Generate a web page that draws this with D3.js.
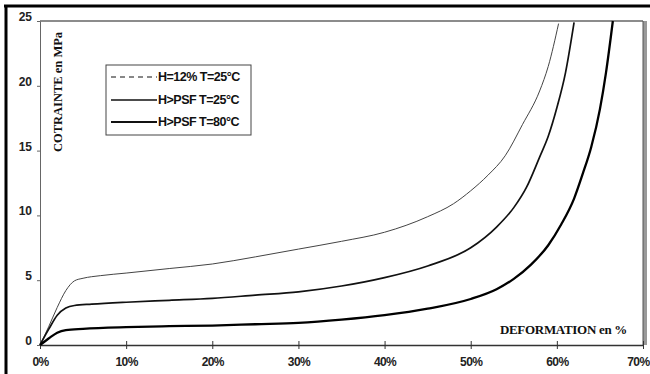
<!DOCTYPE html>
<html><head><meta charset="utf-8">
<script src="https://cdn.jsdelivr.net/npm/d3@7"></script>
<style>html,body{margin:0;padding:0;background:#fff;overflow:hidden}</style>
</head><body>
<svg id="c" width="650" height="374"></svg>
<script>
const xTicks = [0,10,20,30,40,50,60,70];
const yTicks = [0,5,10,15,20,25];
const seriesNames = ["H=12% T=25°C","H>PSF T=25°C","H>PSF T=80°C"];
const strain1 = [0,1,2,3,4,5,7,10,15,20,25,30,35,40,45,48,50,52,54,56,58,59,60.2];
const stress1 = [0,1.4,2.9,4.2,4.95,5.15,5.35,5.55,5.9,6.25,6.8,7.4,8.0,8.7,9.9,10.9,11.9,13.1,14.6,17.0,19.6,21.5,24.8];
const strain2 = [0,1,2,3,4,6,10,15,20,25,30,35,40,45,50,53,55,56.5,58,59,60,61,62];
const stress2 = [0,1.2,2.3,2.85,3.05,3.15,3.3,3.45,3.6,3.85,4.1,4.55,5.2,6.1,7.5,9.1,10.6,12.2,14.5,16.1,18.3,21.0,24.9];
const strain3 = [0,1,2,3,5,10,15,20,25,30,35,40,45,50,53,55,57,59,60.5,62,63,64,65,65.7,66.5];
const stress3 = [0,0.5,0.95,1.15,1.25,1.38,1.45,1.5,1.6,1.7,1.95,2.3,2.8,3.55,4.3,5.1,6.2,7.7,9.3,11.3,13.2,15.3,18.2,21.0,25.0];

const svg = d3.select("#c");
const x = d3.scaleLinear().domain([0,70]).range([40,643]);
const y = d3.scaleLinear().domain([0,25]).range([345,21]);

// outer frame
svg.append("line").attr("x1",4).attr("x2",650).attr("y1",6).attr("y2",6).attr("stroke","#000").attr("stroke-width",3);
svg.append("line").attr("x1",6).attr("x2",6).attr("y1",5).attr("y2",374).attr("stroke","#000").attr("stroke-width",3);

// plot frame
svg.append("line").attr("x1",x(0)).attr("x2",x(70)).attr("y1",y(25)).attr("y2",y(25)).attr("stroke","#666").attr("stroke-width",1.5);
svg.append("line").attr("x1",x(70)+2).attr("x2",x(70)+2).attr("y1",y(25)).attr("y2",y(0)).attr("stroke","#999").attr("stroke-width",4);
svg.append("line").attr("x1",x(70)).attr("x2",x(70)).attr("y1",y(25)).attr("y2",y(0)).attr("stroke","#555").attr("stroke-width",1);

const fontTick = "Arial, 'Liberation Sans', sans-serif";
const xAxis = svg.append("g").attr("transform",`translate(0,${y(0)})`)
  .call(d3.axisBottom(x).tickValues(xTicks).tickSizeInner(4).tickSizeOuter(0).tickPadding(8).tickFormat(d=>d+"%"));
xAxis.select(".domain").attr("stroke","#333").attr("stroke-width",1.5);
xAxis.selectAll(".tick line").attr("stroke","#333").attr("y1",-4).attr("y2",4);
xAxis.selectAll("text").attr("font-family",fontTick).attr("font-size",12).attr("font-weight","bold").attr("fill","#222").attr("letter-spacing","-0.6");
xAxis.selectAll(".tick").filter(d=>d===70).select("text").attr("text-anchor","end").attr("x",6);

const yAxis = svg.append("g").attr("transform",`translate(${x(0)},0)`)
  .call(d3.axisLeft(y).tickValues(yTicks).tickSizeInner(3).tickSizeOuter(0).tickPadding(5));
yAxis.select(".domain").attr("stroke","#666").attr("stroke-width",1);
yAxis.selectAll(".tick line").attr("stroke","#666");
yAxis.selectAll("text").attr("font-family",fontTick).attr("font-size",12).attr("font-weight","bold").attr("fill","#222").attr("dy","-0.05em");

// curves
const series = [
  {xs:strain1, ys:stress1, w:1, c:"#444"},
  {xs:strain2, ys:stress2, w:1.7, c:"#111"},
  {xs:strain3, ys:stress3, w:2.3, c:"#000"}
];
const line = d3.line().x(d=>x(d[0])).y(d=>y(d[1])).curve(d3.curveMonotoneX);
series.forEach(s=>{
  const pts = s.xs.map((v,i)=>[v,s.ys[i]]);
  svg.append("path").attr("d",line(pts)).attr("fill","none").attr("stroke",s.c).attr("stroke-width",s.w);
});

// axis titles
svg.append("text").attr("transform",`translate(62,92) rotate(-90)`).attr("text-anchor","middle")
  .attr("font-family","'Liberation Serif','Times New Roman',serif").attr("font-weight","bold").attr("font-size",12.5)
  .attr("fill","#111").text("COTRAINTE en MPa");
svg.append("text").attr("x",627).attr("y",334).attr("text-anchor","end")
  .attr("font-family","'Liberation Serif','Times New Roman',serif").attr("font-weight","bold").attr("font-size",13)
  .attr("letter-spacing","-0.3").attr("fill","#111").text("DEFORMATION en %");

// legend
svg.append("rect").attr("x",106).attr("y",65).attr("width",145).attr("height",70).attr("fill","#fff").attr("stroke","#444").attr("stroke-width",1);
const legY = [77,100,122];
const legStyles = [{w:1,dash:"5,4"},{w:1.6,dash:null},{w:2,dash:null}];
seriesNames.forEach((n,i)=>{
  const l = svg.append("line").attr("x1",111).attr("x2",157).attr("y1",legY[i]).attr("y2",legY[i])
    .attr("stroke","#111").attr("stroke-width",legStyles[i].w);
  if (legStyles[i].dash) l.attr("stroke-dasharray",legStyles[i].dash);
  svg.append("text").attr("x",158).attr("y",legY[i]+4).attr("font-family",fontTick).attr("font-size",12.5)
    .attr("font-weight","bold").attr("letter-spacing","-0.5").attr("fill","#111").text(n);
});
</script>
</body></html>
